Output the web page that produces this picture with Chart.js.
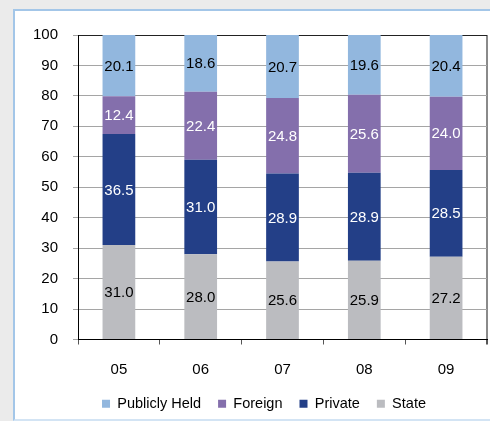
<!DOCTYPE html>
<html>
<head>
<meta charset="utf-8">
<script src="https://cdn.jsdelivr.net/npm/chart.js@4/dist/chart.umd.min.js"></script>
<style>
    html, body { margin: 0; padding: 0; width: 490px; height: 421px; overflow: hidden; background: #ebebeb; }
    .panel {
        position: absolute; left: 13px; top: 9px; width: 500px; height: 408px;
        background: #fff;
        border-left: 2px solid #a3c6e8; border-top: 2px solid #a3c6e8; border-bottom: 2px solid #d3e4f4;
    }
    #ownershipChart { position: absolute; left: 0; top: 0; }
</style>
</head>
<body>
<div class="panel"></div>
<canvas id="ownershipChart" width="490" height="421"></canvas>
<script>
const years = ['05', '06', '07', '08', '09'];
const state = [31.0, 28.0, 25.6, 25.9, 27.2];
const privateOwned = [36.5, 31.0, 28.9, 28.9, 28.5];
const foreign = [12.4, 22.4, 24.8, 25.6, 24.0];
const publiclyHeld = [20.1, 18.6, 20.7, 19.6, 20.4];

const FONT = "'Liberation Sans', Arial, sans-serif";

// value labels in the middle of each segment
const segmentLabels = {
    id: 'segmentLabels',
    afterLayout(chart) {
        // legend sits a bit right of the canvas centre
        chart.legend.left += 13;
        chart.legend.right += 13;
    },
    afterDatasetsDraw(chart) {
        const ctx = chart.ctx;
        ctx.save();
        ctx.font = '15px ' + FONT;
        ctx.textAlign = 'center';
        ctx.textBaseline = 'middle';
        chart.data.datasets.forEach((ds, i) => {
            chart.getDatasetMeta(i).data.forEach((bar, j) => {
                ctx.fillStyle = ds.labelColor;
                ctx.fillText(ds.data[j].toFixed(1), bar.x, (bar.y + bar.base) / 2 + 1);
            });
        });
        ctx.restore();
    },
    afterDraw(chart) {
        // the category labels are cut off a little at the bottom
        const a = chart.chartArea;
        chart.ctx.fillStyle = '#fff';
        chart.ctx.fillRect(a.left + 2, 375, a.right - a.left - 6, 5);
    }
};

new Chart(document.getElementById('ownershipChart'), {
    type: 'bar',
    data: {
        labels: years,
        datasets: [
            { label: 'State', data: state, backgroundColor: '#bbbcc0', labelColor: '#000' },
            { label: 'Private', data: privateOwned, backgroundColor: '#233f87', labelColor: '#fff' },
            { label: 'Foreign', data: foreign, backgroundColor: '#846fac', labelColor: '#fff' },
            { label: 'Publicly Held', data: publiclyHeld, backgroundColor: '#92b7de', labelColor: '#000' }
        ]
    },
    options: {
        responsive: false,
        animation: false,
        categoryPercentage: 1,
        barPercentage: 0.4,
        layout: { padding: { top: 35, left: 15, right: 3, bottom: 0 } },
        plugins: {
            tooltip: { enabled: false },
            legend: {
                position: 'bottom',
                reverse: true,
                labels: {
                    boxWidth: 8,
                    boxHeight: 8,
                    padding: 17,
                    color: '#000',
                    font: { family: FONT, size: 14.5 }
                }
            }
        },
        scales: {
            x: {
                stacked: true,
                afterFit: s => { s.height = 40; },
                border: { color: '#000', width: 1 },
                grid: {
                    offset: true,
                    color: c => c.tick ? 'rgba(0,0,0,0)' : '#8a8a8a',
                    lineWidth: c => c.tick ? 1 : 2,
                    tickColor: '#555',
                    tickLength: 5
                },
                ticks: { color: '#000', padding: 16, font: { family: FONT, size: 15 } }
            },
            y: {
                stacked: true,
                min: 0,
                max: 100,
                afterFit: s => { s.width = 63; },
                border: { color: '#000', width: 1 },
                grid: {
                    color: c => c.tick && c.tick.value === 100 ? '#222' : '#a5a5a5',
                    tickColor: '#a5a5a5',
                    tickLength: 5
                },
                ticks: { stepSize: 10, color: '#000', padding: 15, font: { family: FONT, size: 15 } }
            }
        }
    },
    plugins: [segmentLabels]
});
</script>
</body>
</html>
